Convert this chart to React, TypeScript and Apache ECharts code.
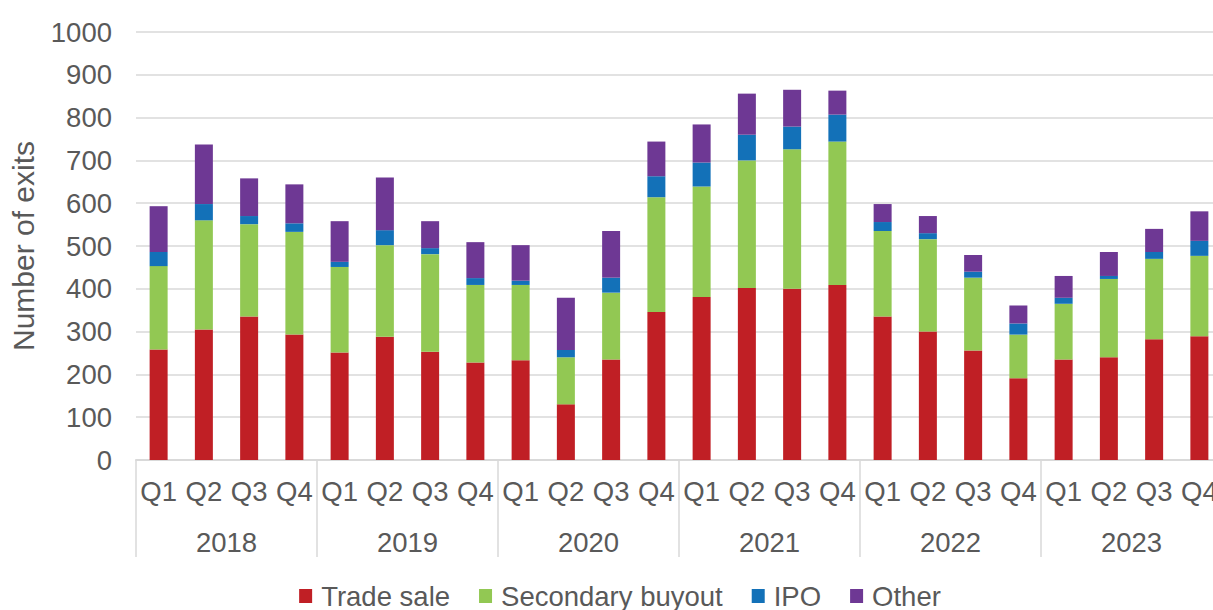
import React, { useEffect, useRef } from "react";
import * as echarts from "echarts";

const quarters = [
  "Q1", "Q2", "Q3", "Q4", "Q1", "Q2", "Q3", "Q4", "Q1", "Q2", "Q3", "Q4",
  "Q1", "Q2", "Q3", "Q4", "Q1", "Q2", "Q3", "Q4", "Q1", "Q2", "Q3", "Q4",
];
const years = ["2018", "2019", "2020", "2021", "2022", "2023"];

const tradeSale = [258, 305, 335, 293, 251, 288, 253, 228, 233, 130, 235, 346, 381, 402, 400, 409, 335, 300, 256, 191, 235, 240, 282, 289];
const secondaryBuyout = [195, 255, 216, 240, 200, 214, 228, 181, 176, 110, 156, 268, 258, 298, 326, 335, 200, 216, 170, 102, 130, 183, 188, 188];
const ipo = [33, 38, 19, 20, 12, 35, 14, 16, 10, 17, 35, 49, 56, 60, 53, 63, 21, 14, 14, 26, 14, 7, 16, 35];
const other = [107, 139, 88, 91, 95, 123, 63, 84, 83, 122, 109, 81, 89, 96, 86, 56, 42, 40, 39, 42, 51, 56, 54, 69];

const seriesNames = ["Trade sale", "Secondary buyout", "IPO", "Other"];
const seriesColors = ["#C01F25", "#92C853", "#1371B8", "#6E3894"];

const FONT = "'Liberation Sans', Arial, sans-serif";
const TEXT = "#595959";
const GRID = "#d9d9d9";
const FS = 27.5;

export default function App() {
  const ref = useRef<HTMLDivElement>(null);

  useEffect(() => {
    if (!ref.current) return;
    const chart = echarts.init(ref.current, undefined, { renderer: "svg" });
    const dataSets = [tradeSale, secondaryBuyout, ipo, other];
    chart.setOption({
      animation: false,
      textStyle: { fontFamily: FONT },
      grid: { left: 136, top: 32, bottom: 150, right: 18, containLabel: false },
      legend: {
        data: seriesNames,
        top: 577,
        left: "center",
        itemWidth: 13,
        itemHeight: 14,
        itemGap: 29,
        icon: "rect",
        textStyle: { fontSize: FS, color: TEXT, fontFamily: FONT, padding: [0, 0, 0, 4] },
      },
      xAxis: [
        {
          type: "category",
          data: quarters,
          position: "bottom",
          axisLine: { show: true, lineStyle: { color: GRID, width: 2 } },
          axisTick: { show: false },
          axisLabel: { interval: 0, fontSize: FS, color: TEXT, fontFamily: FONT, margin: 17 },
        },
        {
          type: "category",
          data: years,
          position: "bottom",
          axisLine: { show: false },
          axisTick: { show: true, length: 97, lineStyle: { color: GRID, width: 1.5 } },
          axisLabel: { interval: 0, fontSize: FS, color: TEXT, fontFamily: FONT, margin: 68 },
        },
      ],
      yAxis: {
        type: "value",
        min: 0,
        max: 1000,
        interval: 100,
        name: "Number of exits",
        nameLocation: "middle",
        nameGap: 98,
        nameRotate: 90,
        nameTextStyle: { fontSize: 30, color: TEXT, fontFamily: FONT },
        axisLine: { show: false },
        axisTick: { show: false },
        axisLabel: { fontSize: FS, color: TEXT, fontFamily: FONT, margin: 24, formatter: (v: number) => String(v) },
        splitLine: { lineStyle: { color: GRID, width: 1.5 } },
      },
      series: seriesNames.map((name, i) => ({
        name,
        type: "bar",
        stack: "total",
        xAxisIndex: 0,
        barWidth: 18,
        itemStyle: { color: seriesColors[i] },
        data: dataSets[i],
      })),
    });
    return () => chart.dispose();
  }, []);

  return (
    <div style={{ position: "fixed", left: 0, top: 0, width: 1213, height: 610, overflow: "hidden", background: "#fff" }}>
      <div ref={ref} style={{ width: 1240, height: 610 }} />
    </div>
  );
}
